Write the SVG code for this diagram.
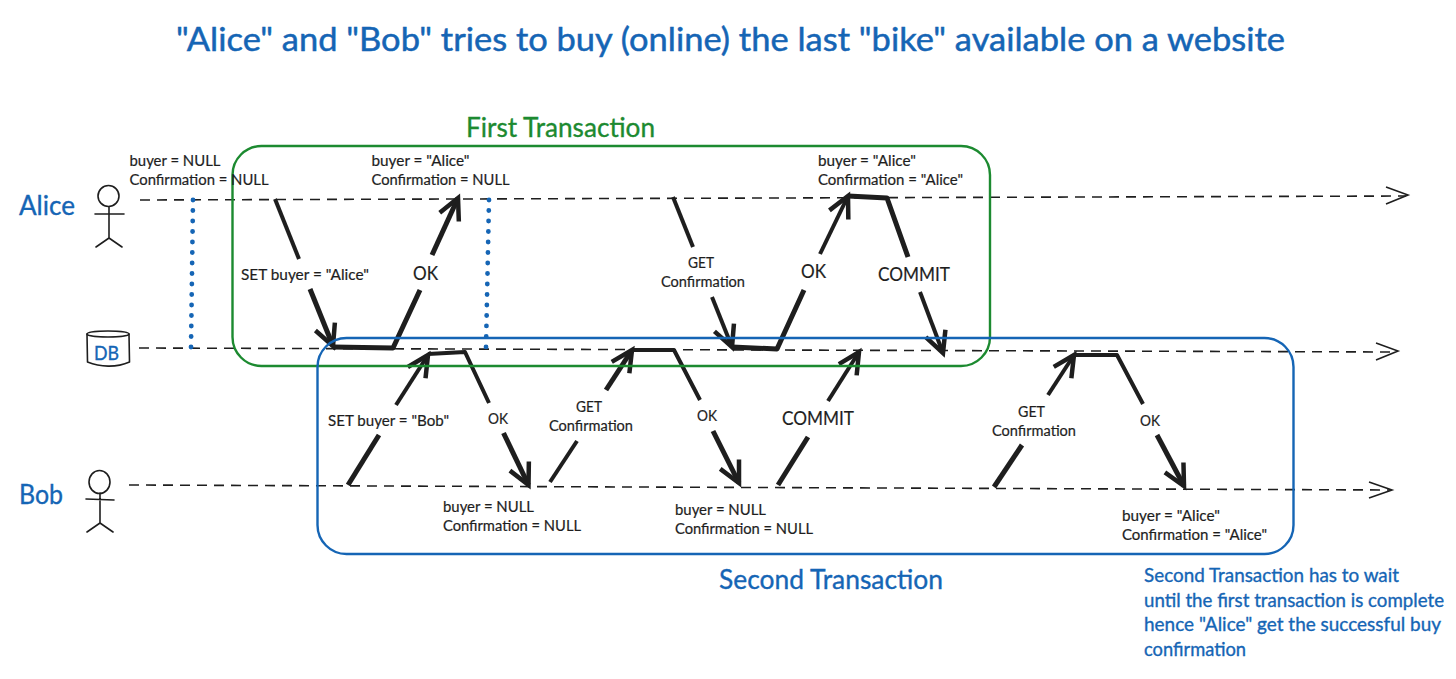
<svg xmlns="http://www.w3.org/2000/svg" width="1456" height="679" viewBox="0 0 1456 679">
<style>
text{font-family:"Lato","Noto Sans","Liberation Sans",sans-serif;fill:#1e1e1e;stroke:#1e1e1e;stroke-width:.2px}
.s{font-size:15.500px}
.m{font-size:19.500px}
.b{fill:#1565b5;stroke:#1565b5;stroke-width:.35px}
.title{font-size:33px;stroke-width:.5px}
.big{font-size:27px}
.note{font-size:19px}
.g{fill:#1c8a30;stroke:#1c8a30;stroke-width:.35px}
.sk{fill:none;stroke:#1e1e1e;stroke-width:1.6;stroke-linecap:round;stroke-linejoin:round}
.dash{fill:none;stroke:#1e1e1e;stroke-width:1.6;stroke-dasharray:10 7}
.head{fill:none;stroke:#1e1e1e;stroke-width:1.6}
.t{fill:none;stroke:#1e1e1e;stroke-width:4;stroke-linejoin:round}
.k{fill:none;stroke:#1e1e1e;stroke-width:5;stroke-linejoin:round}
.a{marker-end:url(#barb)}
.dot{fill:none;stroke:#1565b5;stroke-width:4.800;stroke-linecap:round;stroke-dasharray:0 10.500}
.box{fill:none;stroke-width:2.400}
</style>
<defs>
<marker id="barb" markerUnits="userSpaceOnUse" markerWidth="34" markerHeight="34" viewBox="-28 -17 34 34" refX="0" refY="0" orient="auto" overflow="visible">
<path d="M-21,-10.500 L0,0 L-21,10.500" fill="none" stroke="#1e1e1e" stroke-width="4.500" stroke-linejoin="miter"/>
</marker>
</defs>
<text class="title b" x="176" y="50.500" textLength="1109" lengthAdjust="spacingAndGlyphs">"Alice" and "Bob" tries to buy (online) the last "bike" available on a website</text>
<g id="connectors">
<path class="dash" d="M140,200 L1406,196"/>
<path class="head" d="M1386,187 L1408,195 L1386,204"/>
<path class="dash" d="M139,348 L1396,352"/>
<path class="head" d="M1376,343 L1398,351 L1376,360"/>
<path class="dash" d="M129,485 L1390,490"/>
<path class="head" d="M1369,482 L1392,490 L1369,498"/>
<path class="dot" d="M193,200 L191,348"/>
<path class="dot" d="M489,200 L486,348"/>
<path class="t" d="M275,199 L299,259"/>
<path class="k a" d="M310,289 L333,346"/>
<path class="k" d="M333,347 L393,348 L420,290"/>
<path class="k a" d="M432,255 L458,198"/>
<path class="k" d="M348,485 L379,435"/>
<path class="t a" d="M396,405 L428,355"/>
<path class="t" d="M428,354 L465,352 L489,403"/>
<path class="k a" d="M503.500,433 L528.500,485"/>
<path class="t" d="M673,197 L693,247"/>
<path class="t a" d="M712,297 L732,347"/>
<path class="k" d="M732,347 L777,349 L804,290"/>
<path class="t a" d="M820,254 L848,196"/>
<path class="k" d="M848,196 L887,198 L908,257"/>
<path class="t a" d="M920,292 L943,353"/>
<path class="t" d="M550,482 L577,441"/>
<path class="k a" d="M606,390 L632,350"/>
<path class="t" d="M632,350 L674,350 L700,400"/>
<path class="k a" d="M713,431 L739,483"/>
<path class="k" d="M778,485 L808,437"/>
<path class="t a" d="M828,401 L859,352"/>
<path class="k" d="M994,487 L1022,445"/>
<path class="t a" d="M1048,395 L1074,355"/>
<path class="t" d="M1074,355 L1117,355 L1143,404"/>
<path class="k a" d="M1157,435 L1184,486"/>
</g>
<g id="first-transaction">
<rect class="box" x="232.500" y="146" width="757.500" height="220" rx="29" stroke="#1c8a30"/>
<text class="big g" x="466" y="137" textLength="189" lengthAdjust="spacingAndGlyphs">First Transaction</text>
</g>
<g id="second-transaction">
<rect class="box" x="317.500" y="338" width="976" height="216" rx="29" stroke="#1565b5"/>
<text class="big b" x="719" y="589" textLength="224" lengthAdjust="spacingAndGlyphs">Second Transaction</text>
<text class="note b" x="1144" y="582" textLength="255" lengthAdjust="spacingAndGlyphs">Second Transaction has to wait</text>
<text class="note b" x="1144" y="606.500" textLength="300" lengthAdjust="spacingAndGlyphs">until the first transaction is complete</text>
<text class="note b" x="1144" y="631" textLength="297" lengthAdjust="spacingAndGlyphs">hence "Alice" get the successful buy</text>
<text class="note b" x="1144" y="655.500" textLength="102" lengthAdjust="spacingAndGlyphs">confirmation</text>
</g>
<g id="alice">
<text class="big b" x="19" y="214.500" textLength="56" lengthAdjust="spacingAndGlyphs">Alice</text>
<circle class="sk" cx="108.500" cy="196" r="10.500"/>
<path class="sk" d="M95,214 L124,214 M109,207 L109,238 M96,247 L109,238 L122,247"/>
</g>
<g id="db">
<path class="sk" d="M87,334 C87,330 129,330 129,334 C129,338 87,338 87,334 Z"/>
<path class="sk" d="M87,334 L87.500,362 C100,367 116,368 129.500,362 L129,334"/>
<text class="b" style="font-size:19px" x="94" y="360" textLength="25" lengthAdjust="spacingAndGlyphs">DB</text>
</g>
<g id="bob">
<text class="big b" x="19" y="503.500" textLength="44" lengthAdjust="spacingAndGlyphs">Bob</text>
<ellipse class="sk" cx="99.500" cy="482" rx="10.500" ry="11.500"/>
<path class="sk" d="M86,499 L114,500 M100,493 L100,523 M87,532 L100,523 L113,532"/>
</g>
<g id="labels">
<text class="s" x="129.500" y="166" textLength="91" lengthAdjust="spacingAndGlyphs">buyer = NULL</text>
<text class="s" x="129.500" y="185" textLength="139" lengthAdjust="spacingAndGlyphs">Confirmation = NULL</text>
<text class="s" x="371.500" y="166" textLength="98" lengthAdjust="spacingAndGlyphs">buyer = "Alice"</text>
<text class="s" x="371.500" y="185" textLength="138" lengthAdjust="spacingAndGlyphs">Confirmation = NULL</text>
<text class="s" x="818" y="166" textLength="98" lengthAdjust="spacingAndGlyphs">buyer = "Alice"</text>
<text class="s" x="818" y="185" textLength="145" lengthAdjust="spacingAndGlyphs">Confirmation = "Alice"</text>
<text class="s" x="241" y="280" textLength="128" lengthAdjust="spacingAndGlyphs">SET buyer = "Alice"</text>
<text class="m" x="413" y="280" textLength="25" lengthAdjust="spacingAndGlyphs">OK</text>
<text class="s" x="688" y="268" textLength="26" lengthAdjust="spacingAndGlyphs">GET</text>
<text class="s" x="661" y="287" textLength="84" lengthAdjust="spacingAndGlyphs">Confirmation</text>
<text class="m" x="801" y="278" textLength="25" lengthAdjust="spacingAndGlyphs">OK</text>
<text class="m" x="878" y="281" textLength="72" lengthAdjust="spacingAndGlyphs">COMMIT</text>
<text class="s" x="328" y="426" textLength="121" lengthAdjust="spacingAndGlyphs">SET buyer = "Bob"</text>
<text class="s" x="488" y="424" textLength="20" lengthAdjust="spacingAndGlyphs">OK</text>
<text class="s" x="576" y="412" textLength="26" lengthAdjust="spacingAndGlyphs">GET</text>
<text class="s" x="549" y="431" textLength="84" lengthAdjust="spacingAndGlyphs">Confirmation</text>
<text class="s" x="697" y="421" textLength="20" lengthAdjust="spacingAndGlyphs">OK</text>
<text class="m" x="782" y="425" textLength="72" lengthAdjust="spacingAndGlyphs">COMMIT</text>
<text class="s" x="443" y="512" textLength="91" lengthAdjust="spacingAndGlyphs">buyer = NULL</text>
<text class="s" x="443" y="531" textLength="138" lengthAdjust="spacingAndGlyphs">Confirmation = NULL</text>
<text class="s" x="675" y="515" textLength="91" lengthAdjust="spacingAndGlyphs">buyer = NULL</text>
<text class="s" x="675" y="534" textLength="138" lengthAdjust="spacingAndGlyphs">Confirmation = NULL</text>
<text class="s" x="1018" y="417" textLength="27" lengthAdjust="spacingAndGlyphs">GET</text>
<text class="s" x="992" y="436" textLength="84" lengthAdjust="spacingAndGlyphs">Confirmation</text>
<text class="s" x="1140" y="426" textLength="20" lengthAdjust="spacingAndGlyphs">OK</text>
<text class="s" x="1122" y="521" textLength="98" lengthAdjust="spacingAndGlyphs">buyer = "Alice"</text>
<text class="s" x="1122" y="540" textLength="145" lengthAdjust="spacingAndGlyphs">Confirmation = "Alice"</text>
</g>
</svg>
